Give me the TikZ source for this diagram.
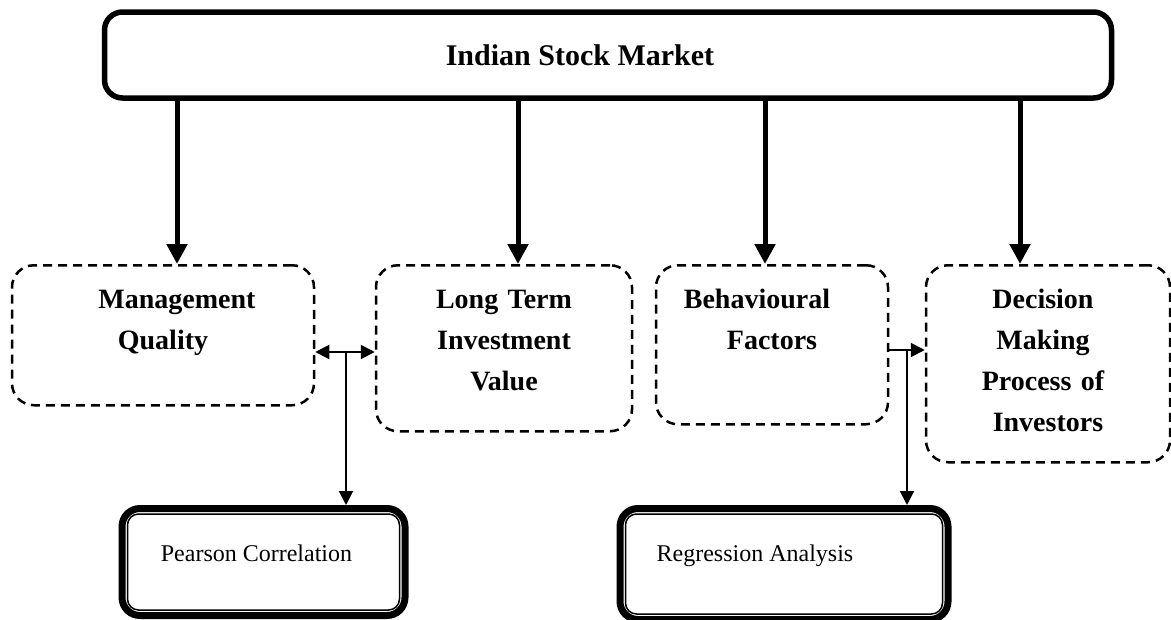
\documentclass[tikz,border=0pt]{standalone}
\usepackage{fontspec}
\setmainfont{Liberation Serif}
\usetikzlibrary{arrows.meta}

\begin{document}
\begin{tikzpicture}[x=1pt, y=-1pt]
        \tikzstyle{piata} = [draw, line width=5.5pt, rounded corners=18pt, minimum width=1007pt, minimum height=86pt, inner sep=0pt, font=\bfseries\fontsize{30}{40}\selectfont]
        \tikzstyle{fact}  = [draw, line width=2.5pt, dash pattern=on 9pt off 6pt, rounded corners=22pt, anchor=north, inner xsep=0pt, inner ysep=22pt, text height=21pt, align=center, font=\bfseries\fontsize{28}{41}\selectfont]
        \tikzstyle{metoda} = [draw, line width=7pt, rounded corners=18pt, anchor=north, inner xsep=0pt, inner ysep=35pt, text height=18pt, font=\fontsize{24}{30}\selectfont]
        \tikzstyle{interior} = [line width=1.5pt, rounded corners=11pt]
        \tikzstyle{gros} = [line width=5pt, -{Triangle[length=20pt, width=20pt]}]
        \tikzstyle{subt} = [line width=2pt, -{Triangle[length=14pt, width=14pt]}]
        \newcommand{\decal}[1]{\leftskip=#1pt plus 1fil\relax\rightskip=-#1pt plus 1fil\relax}

        \useasboundingbox (0,0) rectangle (1171,619);

        % Piata de capital.
        \node[piata] (piata) at (608,55) {Indian Stock Market\hspace*{56pt}};

        % Factorii studiati.
        \foreach \nume/\x/\lat/\adanc/\dx/\dt/\text in {
                 mq/ 163/302/ 75/ 14/ 14/{Management\\Quality},
               ltiv/ 504/256/101/ 14/  0/{Long Term\\Investment\\Value},
                 bf/ 772/232/ 94/ -7/-15/{Behavioural\\Factors},
                dmp/1048/244/132/-28/ -5/{Decision\\Making\\Process of\\Investors}} {
            \node[fact, text width=\lat pt, text depth=\adanc pt] (\nume) at (\x,264) {\decal{\dt}\text};
            \coordinate (\nume-t) at ([xshift=\dx pt]\nume.north);
            \draw[gros] (piata.south -| \nume-t) -- (\nume-t);
        }

        % Metodele de analiza.
        \node[metoda, minimum width=283pt, text depth=19pt] (pear) at (263.5,505) {Pearson Correlation\hspace*{14pt}};
        \node[metoda, minimum width=328pt, text depth=23pt] (reg) at (784,505) {Regression Analysis\hspace*{58pt}};
        \foreach \m in {pear, reg}
            \draw[interior] ([shift={(9,9)}]\m.north west) rectangle ([shift={(-9,-9)}]\m.south east);

        % Legaturile dintre factori.
        \coordinate (leg) at (346,352);
        \draw[subt, {Triangle[length=14pt, width=14pt]}-{Triangle[length=14pt, width=14pt]}] (mq.east |- leg) -- (ltiv.west |- leg);
        \draw[subt] (leg) -- (pear.north -| leg);

        \coordinate (cot) at (907,350);
        \draw[subt] (bf.east |- cot) -- (dmp.west |- cot);
        \draw[subt] (cot) -- (reg.north -| cot);
\end{tikzpicture}
\end{document}
